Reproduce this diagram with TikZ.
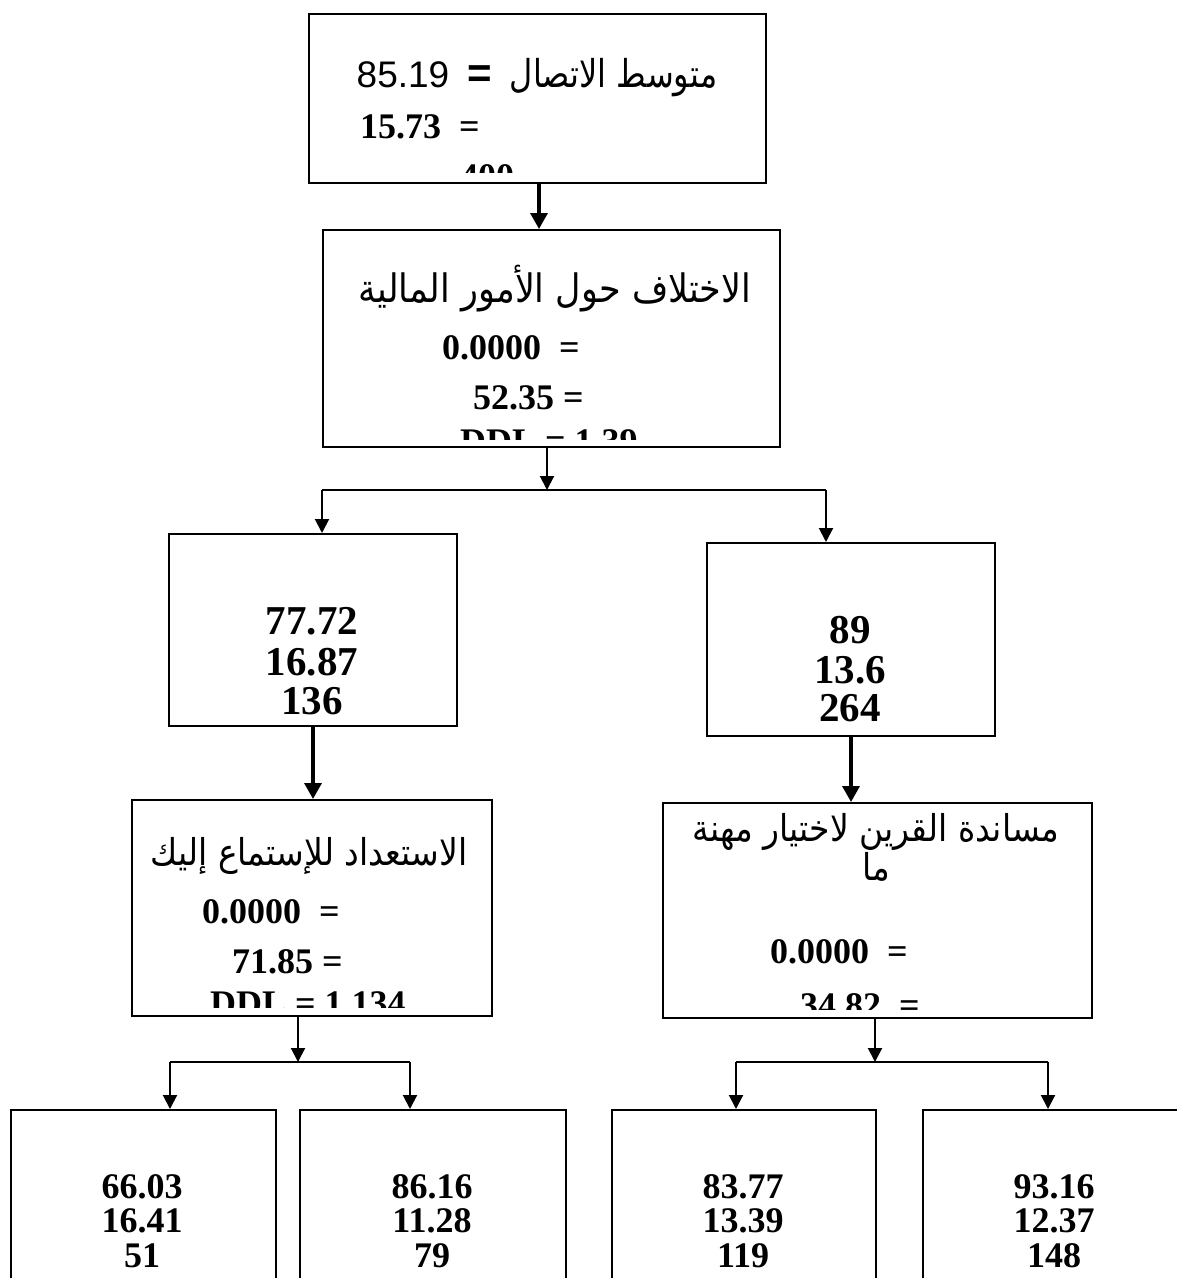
\documentclass[tikz,border=0pt]{standalone}
\usepackage{fontspec}
\usetikzlibrary{arrows.meta}
\TeXXeTstate=1
\newfontfamily\arabicfont[Script=Arabic]{DejaVu Sans}
\newfontfamily\arialf{Liberation Sans}
\newfontfamily\timesf{Liberation Serif}
\newcommand\fsz[1]{\fontsize{#1}{#1}\selectfont}
\newcommand\tallar[1]{\scalebox{1}[1.12]{#1}}
\tikzset{
  box/.style={draw, line width=2pt, inner sep=0pt, anchor=north west},
  conn/.style={line width=2pt, -{Triangle[width=14pt,length=14pt]}},
  thickconn/.style={line width=3.5pt, -{Triangle[width=17pt,length=16pt]}},
  branch/.style={line width=2pt},
  num/.style={inner sep=0pt, font=\timesf\bfseries\fsz{36}},
  bignum/.style={inner sep=0pt, anchor=base, font=\timesf\bfseries\fsz{41}},
  lownum/.style={inner sep=0pt, anchor=base, font=\timesf\bfseries\fsz{36}},
  arab/.style={inner sep=0pt, anchor=base, font=\arabicfont\fsz{33}},
}
\begin{document}
\begin{tikzpicture}[x=1pt,y=-1pt]
\useasboundingbox (0,0) rectangle (1177,1278);
\clip (0,0) rectangle (1177,1278);
\fill[white] (0,0) rectangle (1177,1278);

% ---------- boxes ----------
\node[box, minimum width=457pt, minimum height=169pt] (b1) at (308,13) {};
\node[box, minimum width=457pt, minimum height=217pt] (b2) at (322,229) {};
\node[box, minimum width=288pt, minimum height=192pt] (ml) at (168,533) {};
\node[box, minimum width=288pt, minimum height=193pt] (mr) at (706,542) {};
\node[box, minimum width=360pt, minimum height=216pt] (l2) at (131,799) {};
\node[box, minimum width=429pt, minimum height=215pt] (r2) at (662,802) {};
\node[box, minimum width=265pt, minimum height=300pt] (bl1) at (10,1109) {};
\node[box, minimum width=266pt, minimum height=300pt] (bl2) at (299,1109) {};
\node[box, minimum width=264pt, minimum height=300pt] (br1) at (611,1109) {};
\node[box, minimum width=264pt, minimum height=300pt] (br2) at (922,1109) {};

% ---------- texts of box 1 ----------
\begin{scope}
\clip (b1.north west) rectangle ([yshift=12pt]b1.south east);
\node[inner sep=0pt, anchor=base, font=\arialf\fsz{37}] (t1a) at (537,87)
  {85.19\hspace{18pt}{\fsz{42}\textbf{=}}\hspace{18pt}{\arabicfont\fsz{32}\scalebox{1}[1.2]{\beginR متوسط الاتصال\endR}}};
\node[num, anchor=base west] (t1b) at (360,138) {15.73\ \ =};
\node[num, anchor=base] (t1c) at (487,188) {400};
\end{scope}

% ---------- texts of box 2 ----------
\begin{scope}
\clip (b2.north west) rectangle ([yshift=9pt]b2.south east);
\node[arab, font=\arabicfont\fsz{35}] (t2a) at (555,302) {\tallar{\beginR الاختلاف حول الأمور المالية\endR}};
\node[num, anchor=base west] (t2b) at (442,359) {0.0000 \ =};
\node[num, anchor=base west] (t2c) at (473,409) {52.35 =};
\node[num, anchor=base west] (t2d) at (460,453) {DDL = 1.39};
\end{scope}

% ---------- middle boxes ----------
\node[bignum] (ml1) at (312,634) {77.72};
\node[bignum] (ml2) at (312,675) {16.87};
\node[bignum] (ml3) at (312,714) {136};
\node[bignum] (mr1) at (850,643) {89};
\node[bignum] (mr2) at (850,683) {13.6};
\node[bignum] (mr3) at (850,721) {264};

% ---------- texts of L2 ----------
\begin{scope}
\clip (l2.north west) rectangle ([yshift=10pt]l2.south east);
\node[arab] (t3a) at (309,865) {\tallar{\beginR الاستعداد للإستماع إليك\endR}};
\node[num, anchor=base west] (t3b) at (202,923) {0.0000 \ =};
\node[num, anchor=base west] (t3c) at (232,973) {71.85 =};
\node[num, anchor=base west] (t3d) at (210,1015) {DDL = 1.134};
\end{scope}

% ---------- texts of R2 ----------
\begin{scope}
\clip (r2.north west) rectangle ([yshift=10pt]r2.south east);
\node[arab, align=center] (t4a) at (876,880) {\tallar{\beginR مساندة القرين لاختيار مهنة\endR}\\[0pt]\tallar{\beginR ما\endR}};
\node[num, anchor=base west] (t4b) at (770,963) {0.0000 \ =};
\node[num, anchor=base west] (t4c) at (800,1017) {34.82 \ =};
\end{scope}

% ---------- bottom boxes ----------
\node[lownum] (a1) at (142,1198) {66.03};
\node[lownum] (a2) at (142,1232) {16.41};
\node[lownum] (a3) at (142,1267) {51};
\node[lownum] (b1n) at (432,1198) {86.16};
\node[lownum] (b2n) at (432,1232) {11.28};
\node[lownum] (b3n) at (432,1267) {79};
\node[lownum] (c1) at (743,1198) {83.77};
\node[lownum] (c2) at (743,1232) {13.39};
\node[lownum] (c3) at (743,1267) {119};
\node[lownum] (d1) at (1054,1198) {93.16};
\node[lownum] (d2) at (1054,1232) {12.37};
\node[lownum] (d3) at (1054,1267) {148};

% ---------- connectors ----------
\coordinate (a12) at (539,182);
\draw[thickconn] (a12) -- (a12 |- b2.north);

\coordinate (j1) at (547,490);
\coordinate (jl) at (322,490);
\coordinate (jr) at (826,490);
\draw[conn] (j1 |- b2.south) -- (j1);
\draw[branch] (jl) -- (jr);
\draw[conn] (jl) -- (jl |- ml.north);
\draw[conn] (jr) -- (jr |- mr.north);

\draw[thickconn] (ml.south) -- (ml.south |- l2.north);
\draw[thickconn] (mr.south) -- (mr.south |- r2.north);

\coordinate (j2) at (298,1062);
\coordinate (j2l) at (170,1062);
\coordinate (j2r) at (410,1062);
\draw[conn] (j2 |- l2.south) -- (j2);
\draw[branch] (j2l) -- (j2r);
\draw[conn] (j2l) -- (j2l |- bl1.north);
\draw[conn] (j2r) -- (j2r |- bl2.north);

\coordinate (j3) at (875,1062);
\coordinate (j3l) at (736,1062);
\coordinate (j3r) at (1048,1062);
\draw[conn] (j3 |- r2.south) -- (j3);
\draw[branch] (j3l) -- (j3r);
\draw[conn] (j3l) -- (j3l |- br1.north);
\draw[conn] (j3r) -- (j3r |- br2.north);
\end{tikzpicture}
\end{document}
